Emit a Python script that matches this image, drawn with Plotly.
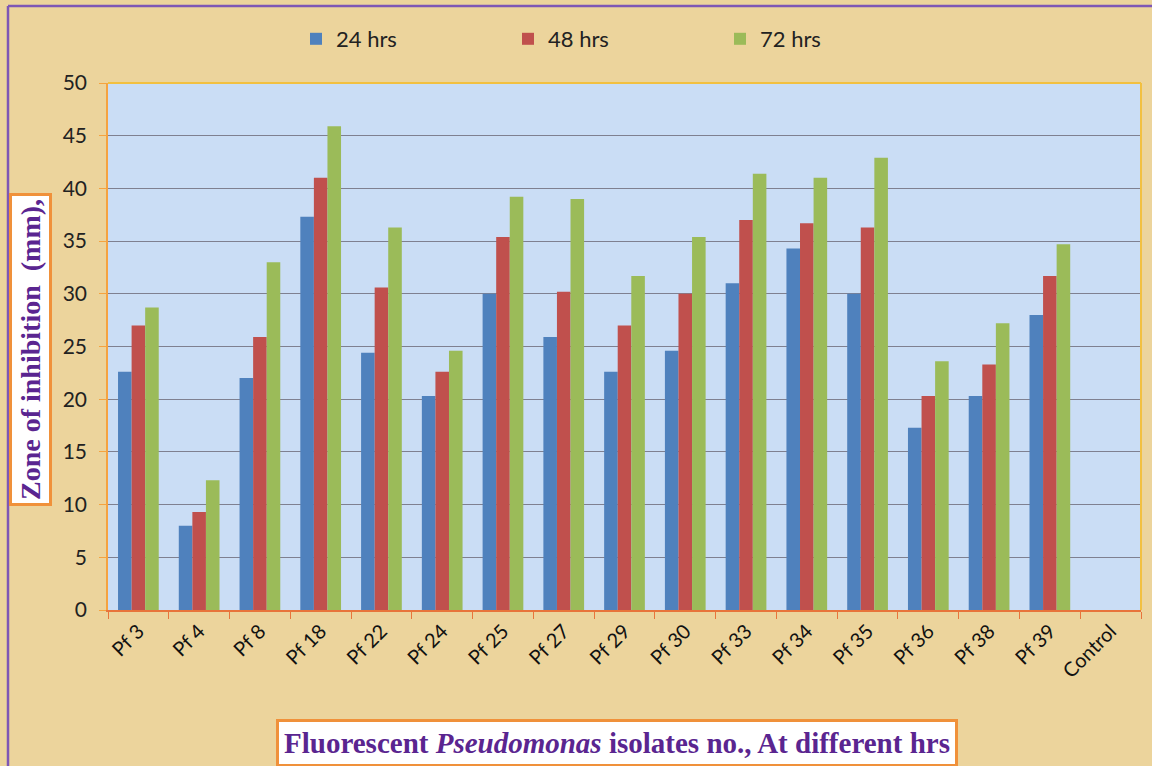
import plotly.graph_objects as go

# Zone of inhibition (mm) for fluorescent Pseudomonas isolates
isolates = ["Pf 3", "Pf 4", "Pf 8", "Pf 18", "Pf 22", "Pf 24", "Pf 25", "Pf 27",
            "Pf 29", "Pf 30", "Pf 33", "Pf 34", "Pf 35", "Pf 36", "Pf 38", "Pf 39",
            "Control"]
hrs_24 = [22.6, 8.0, 22.0, 37.3, 24.4, 20.3, 30.0, 25.9,
          22.6, 24.6, 31.0, 34.3, 30.0, 17.3, 20.3, 28.0, 0]
hrs_48 = [27.0, 9.3, 25.9, 41.0, 30.6, 22.6, 35.4, 30.2,
          27.0, 30.0, 37.0, 36.7, 36.3, 20.3, 23.3, 31.7, 0]
hrs_72 = [28.7, 12.3, 33.0, 45.9, 36.3, 24.6, 39.2, 39.0,
          31.7, 35.4, 41.4, 41.0, 42.9, 23.6, 27.2, 34.7, 0]
series_names = ["24 hrs", "48 hrs", "72 hrs"]
y_ticks = [0, 5, 10, 15, 20, 25, 30, 35, 40, 45, 50]

colors = ["#4F81BD", "#C0504D", "#9BBB59"]
W, H = 1152, 766
L, R, T, B = 108, 11, 83, 156
plot_w, plot_h = W - L - R, H - T - B


def px_x(p):
    return (p - L) / plot_w


def px_y(p):
    return (H - B - p) / plot_h


fig = go.Figure()
for name, vals, col in zip(series_names, [hrs_24, hrs_48, hrs_72], colors):
    fig.add_trace(go.Bar(x=isolates, y=vals, name=name,
                         marker=dict(color=col, line=dict(width=0))))

fig.update_layout(
    width=W, height=H,
    margin=dict(l=L, r=R, t=T, b=B, pad=0),
    paper_bgcolor="#ECD49C",
    plot_bgcolor="#CADDF5",
    barmode="group",
    bargap=0.33,
    bargroupgap=0,
    font=dict(family="Lato, Open Sans, sans-serif", color="#222222"),
    showlegend=True,
    legend=dict(orientation="h", x=px_x(296), y=px_y(18), xanchor="left",
                yanchor="top", font=dict(size=22, color="#222222"),
                bgcolor="rgba(0,0,0,0)", entrywidth=167,
                entrywidthmode="pixels", itemwidth=30, traceorder="normal"),
    xaxis=dict(
        showline=True, linecolor="#E8743B", linewidth=1.5,
        ticks="outside", ticklen=7, tickcolor="#E8743B",
        tickson="boundaries", tickangle=-45,
        tickfont=dict(size=20, color="#111111"),
        showgrid=False, mirror=False,
    ),
    yaxis=dict(
        range=[0, 50], tickvals=y_ticks, ticktext=[str(v) for v in y_ticks],
        showgrid=True, gridcolor="#7F8090", gridwidth=1.2,
        showline=True, linecolor="#F5A340", linewidth=1.5,
        ticks="outside", ticklen=7, tickcolor="#F5A340",
        ticklabelstandoff=8,
        tickfont=dict(size=21, color="#222222"),
        zeroline=False,
    ),
)

# Plot area frame (top and right edges)
fig.add_shape(type="line", xref="paper", yref="paper", x0=0, x1=1, y0=1, y1=1,
              line=dict(color="#F2C040", width=2))
fig.add_shape(type="line", xref="paper", yref="paper", x0=1, x1=1, y0=0, y1=1,
              line=dict(color="#F2C040", width=2))

# Outer chart border
fig.add_shape(type="line", xref="paper", yref="paper",
              x0=px_x(8), x1=px_x(8), y0=px_y(6), y1=px_y(H + 5),
              line=dict(color="#7E57B5", width=2.5))
fig.add_shape(type="line", xref="paper", yref="paper",
              x0=px_x(8), x1=px_x(W + 5), y0=px_y(6), y1=px_y(6),
              line=dict(color="#7E57B5", width=2.5))

# Axis titles in boxed labels
fig.add_annotation(
    text="<b>Zone of inhibition  (mm),</b>",
    xref="paper", yref="paper", x=px_x(30), y=px_y(350),
    xanchor="center", yanchor="middle", textangle=-90, showarrow=False,
    font=dict(family="Liberation Serif, Times New Roman, serif", size=28,
              color="#5A2590"),
    bgcolor="#FFFFFF", bordercolor="#F0913A", borderwidth=3, borderpad=3,
)
fig.add_annotation(
    text="<b>Fluorescent <i>Pseudomonas</i> isolates no., At different hrs</b>",
    xref="paper", yref="paper", x=px_x(617), y=px_y(719),
    xanchor="center", yanchor="top", showarrow=False,
    font=dict(family="Liberation Serif, Times New Roman, serif", size=29,
              color="#5A2590"),
    bgcolor="#FFFFFF", bordercolor="#F0913A", borderwidth=3, borderpad=5,
)

fig.write_html("out.html")
